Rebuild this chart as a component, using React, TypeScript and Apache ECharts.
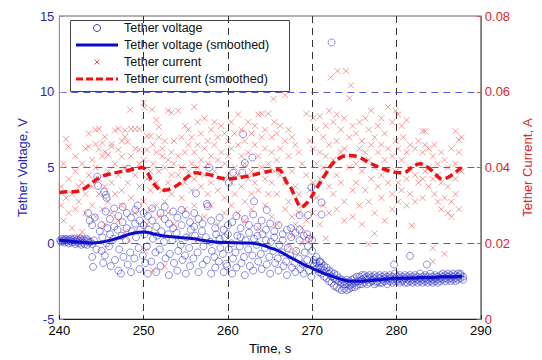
import React, { useEffect, useRef } from "react";
import * as echarts from "echarts";

// Tether voltage samples [time s, voltage V]
const voltageRaw: [number, number][] = [
  [240.1,0.2],[240.2,0.1],[240.3,0.3],[240.4,0.15],[240.5,0.25],[240.6,0.05],[240.7,0.2],[240.8,0.3],[240.9,0.1],[241.0,0.2],
  [241.1,0.0],[241.2,0.25],[241.3,0.15],[241.4,0.3],[241.5,0.05],[241.6,0.2],[241.7,0.1],[241.8,0.3],[241.9,-0.05],[242.0,0.2],
  [242.1,0.1],[242.2,0.25],[242.3,0.0],[242.4,0.15],[242.5,0.3],[242.6,-0.1],[242.7,0.2],[242.8,0.05],[242.9,0.25],[243.0,-0.05],
  [243.1,0.15],[243.2,0.3],[243.3,-0.1],[243.4,0.2],[243.5,0.05],[243.7,0.1],[243.9,-0.05],[244.1,0.2],
  [243.4,2.0],[243.6,1.5],[243.9,1.2],[244.2,1.7],[243.9,-0.9],[244.0,-1.55],[244.5,4.4],[244.6,3.8],[245.3,3.4],[245.6,3.0],[245.5,3.2],[244.4,-0.4],[244.8,0.8],
  [245.0,1.2],[245.0,-0.5],[245.1,0.4],[245.2,-1.3],
  [245.5,2.1],[245.6,0.0],[245.4,-0.8],[245.7,1.0],
  [246.0,1.6],[246.1,-1.5],[246.0,0.6],[245.9,-0.2],
  [246.5,2.3],[246.4,0.3],[246.6,-1.1],[246.5,1.1],
  [247.0,1.8],[247.1,-0.4],[246.9,0.9],[247.0,-1.8],
  [247.5,2.4],[247.4,0.5],[247.6,-0.9],[247.5,1.4],[247.3,-2.0],
  [248.0,1.0],[248.1,-1.4],[247.9,0.2],[248.0,2.0],[248.2,4.9],
  [248.5,1.7],[248.4,-0.6],[248.6,0.8],[248.5,-1.9],
  [249.0,2.2],[249.1,0.4],[248.9,-1.0],[249.0,1.3],
  [249.5,1.5],[249.4,-0.3],[249.6,0.9],[249.5,-1.7],[249.3,2.5],
  [250.0,2.0],[250.1,0.6],[249.9,-0.8],[250.0,1.2],[250.2,-1.3],
  [250.5,1.8],[250.4,-0.2],[250.6,0.9],[250.5,-2.0],
  [251.0,2.3],[251.1,0.3],[250.9,-1.2],[251.0,1.5],
  [251.5,1.1],[251.4,-0.6],[251.6,0.5],[251.5,-1.9],
  [252.0,2.0],[252.1,0.8],[251.9,-0.4],[252.0,-1.5],
  [252.5,1.6],[252.4,0.1],[252.6,-1.0],[252.5,2.4],
  [253.0,1.3],[253.1,-0.7],[252.9,0.6],[253.0,-2.1],
  [253.5,2.1],[253.4,0.2],[253.6,-1.3],[253.5,1.0],
  [254.0,1.7],[254.1,-0.5],[253.9,0.7],[254.0,-1.8],
  [254.5,1.2],[254.4,-0.1],[254.6,-1.1],[254.5,2.2],
  [255.0,1.9],[255.1,0.4],[254.9,-0.8],[255.0,-2.0],
  [255.5,1.4],[255.4,-0.3],[255.6,0.9],[255.5,-1.5],
  [256.0,2.0],[256.1,0.5],[255.9,-1.0],[256.0,1.1],[256.2,3.3],
  [256.5,1.6],[256.4,-0.6],[256.6,0.2],[256.5,-1.9],
  [257.0,1.3],[257.1,-0.2],[256.9,0.8],[257.0,-1.4],
  [257.5,2.6],[257.6,2.45],[257.4,0.4],[257.5,-1.1],[257.8,5.0],
  [258.0,1.5],[258.1,-0.5],[257.9,0.1],[258.0,-2.0],
  [258.5,1.0],[258.4,-0.9],[258.6,0.6],[258.5,-1.6],
  [259.0,1.7],[259.1,-0.3],[258.9,-1.2],[259.0,0.3],
  [259.5,0.9],[259.4,-0.7],[259.6,0.4],[259.5,-1.9],[259.8,-1.35],
  [260.0,1.2],[260.1,-0.4],[259.9,-1.5],[260.0,0.6],
  [260.1,4.0],[260.6,4.66],[261.7,4.66],[261.8,7.2],[262.0,5.3],[262.9,5.66],[263.1,2.77],[264.6,2.2],
  [268.5,1.86],[269.5,1.86],[269.9,3.7],[271.1,2.7],[271.1,1.9],[269.4,0.6],[269.6,0.3],[272.3,13.25],
  [260.5,1.4],[260.4,0.0],[260.6,-1.0],[260.5,-2.0],
  [261.0,1.8],[261.1,0.5],[260.9,-0.6],[261.0,-1.6],
  [261.5,1.0],[261.4,-0.2],[261.6,-1.3],[261.5,0.4],
  [262.0,1.6],[262.1,0.2],[261.9,-0.9],[262.0,-2.1],
  [262.5,1.2],[262.4,-0.4],[262.6,-1.5],[262.5,0.7],
  [263.0,1.9],[263.1,0.3],[262.9,-0.8],[263.0,-1.8],
  [263.5,1.1],[263.4,-0.1],[263.6,-1.2],[263.5,0.5],
  [264.0,1.5],[264.1,0.6],[263.9,-0.7],[264.0,-1.7],
  [264.5,0.9],[264.4,-0.3],[264.6,-1.4],[264.5,0.2],
  [265.0,1.3],[265.1,0.1],[264.9,-0.9],[265.0,-2.0],
  [265.5,0.8],[265.4,-0.5],[265.6,-1.3],[265.5,0.4],
  [266.0,1.2],[266.1,-0.1],[265.9,-1.0],[266.0,-1.8],
  [266.5,0.6],[266.4,-0.6],[266.6,-1.5],[266.5,0.2],
  [267.0,0.9],[267.1,-0.3],[266.9,-1.2],[267.0,-2.1],
  [267.5,0.4],[267.4,-0.8],[267.6,-1.6],[267.5,1.0],
  [268.0,0.7],[268.1,-0.5],[267.9,-1.3],[268.0,-1.9],
  [268.5,0.2],[268.4,-1.0],[268.6,-1.7],[268.5,0.9],
  [269.0,0.5],[269.1,-0.6],[268.9,-1.4],[269.0,-2.0],
  [269.5,-0.2],[269.4,-1.1],[269.6,-1.8],
  [270.0,-0.5],[270.1,-1.3],[269.9,-2.2],[270.0,0.2],
  [270.2,-1.1],[270.2,-1.5],[270.5,-1.3],[270.5,-1.7],[270.5,-0.9],
  [270.8,-1.5],[270.8,-1.9],[270.9,-1.2],[271.1,-1.6],[271.1,-2.0],[271.1,-1.3],
  [271.4,-1.8],[271.4,-2.2],[271.4,-1.5],[271.7,-1.9],[271.7,-2.3],[271.7,-1.6],
  [272.0,-2.0],[272.0,-2.5],[272.0,-1.8],[272.3,-2.2],[272.3,-2.6],[272.3,-1.9],
  [272.6,-2.3],[272.6,-2.8],[272.6,-2.0],[272.9,-2.4],[272.9,-2.9],[272.9,-2.1],
  [273.2,-2.5],[273.2,-3.0],[273.2,-2.3],[273.5,-2.6],[273.5,-3.1],[273.5,-2.4],
  [273.8,-2.7],[273.8,-3.0],[273.8,-2.5],[274.1,-2.7],[274.1,-3.1],[274.1,-2.4],
  [274.4,-2.8],[274.4,-3.0],[274.4,-2.5],[274.7,-2.7],[274.7,-2.9],[274.7,-2.4],
  [275.0,-2.6],[275.0,-2.9],[275.0,-2.3],[275.3,-2.5],[275.3,-2.8],[275.3,-2.2],
  [275.6,-2.5],[275.6,-2.7],[275.6,-2.2],[275.9,-2.4],[275.9,-2.7],[275.9,-2.1],
  [276.2,-2.3],[276.2,-2.6],[276.2,-2.1],[276.5,-2.4],[276.5,-2.7],[276.5,-2.2],
  [276.8,-2.3],[276.8,-2.6],[276.8,-2.1],[277.1,-2.4],[277.1,-2.5],[277.1,-2.2],
  [277.4,-2.3],[277.4,-2.7],[277.4,-2.1],[277.7,-2.5],[277.7,-2.2],[277.7,-2.6],
  [278.0,-2.3],[278.0,-2.6],[278.0,-2.1],[278.3,-2.4],[278.3,-2.2],[278.3,-2.6],
  [278.6,-2.3],[278.6,-2.5],[278.6,-2.1],[278.9,-2.4],[278.9,-2.7],[278.9,-2.2],
  [279.2,-2.3],[279.2,-2.5],[279.2,-2.1],[279.5,-2.4],[279.5,-2.2],[279.5,-2.6],
  [279.8,-2.3],[279.8,-2.5],[279.8,-2.0],[280.1,-2.2],[280.1,-2.5],[280.1,-2.4],
  [280.4,-2.3],[280.4,-2.6],[280.4,-2.1],[280.7,-2.4],[280.7,-2.2],[280.7,-2.5],
  [281.0,-2.3],[281.0,-2.6],[281.0,-2.1],[281.3,-2.2],[281.3,-2.4],[281.3,-2.6],
  [281.6,-2.3],[281.6,-2.5],[281.6,-2.1],[281.9,-2.4],[281.9,-2.2],[281.9,-2.6],
  [282.2,-2.3],[282.2,-2.5],[282.2,-2.1],[282.5,-2.2],[282.5,-2.4],[282.5,-2.6],
  [282.8,-2.3],[282.8,-2.5],[282.8,-2.0],[283.1,-2.2],[283.1,-2.4],[283.1,-2.6],
  [283.4,-2.3],[283.4,-2.5],[283.4,-2.1],[283.7,-2.2],[283.7,-2.4],[283.7,-2.6],
  [284.0,-2.3],[284.0,-2.5],[284.0,-2.0],[284.3,-2.2],[284.3,-2.4],[284.3,-2.6],
  [284.6,-2.1],[284.6,-2.3],[284.6,-2.5],[284.9,-2.2],[284.9,-2.4],[284.9,-2.6],
  [285.2,-2.1],[285.2,-2.3],[285.2,-2.5],[285.5,-2.2],[285.5,-2.4],[285.5,-2.0],
  [285.8,-2.1],[285.8,-2.3],[285.8,-2.5],[286.1,-2.2],[286.1,-2.4],[286.1,-2.0],
  [286.4,-2.1],[286.4,-2.3],[286.4,-2.5],[286.7,-2.0],[286.7,-2.2],[286.7,-2.4],
  [287.0,-2.1],[287.0,-2.3],[287.0,-2.5],[287.3,-2.0],[287.3,-2.2],[287.3,-2.4],
  [287.6,-2.1],[287.6,-2.3],[287.6,-2.0],[287.9,-2.2],[287.9,-2.4],
  [270.9,-1.2],[279.7,-1.4],[281.6,-0.83],[283.6,-1.4],
];

// Smoothed tether voltage [time s, voltage V]
const voltageSmooth: [number, number][] = [
  [240,0.2],[241,0.15],[242,0.1],[243,0.05],[244,0.02],[245,0.08],[246,0.2],[247,0.35],[248,0.55],[249,0.7],
  [250,0.75],[251,0.65],[252,0.52],[253,0.45],[254,0.4],[255,0.35],[256,0.3],[257,0.2],[258,0.12],[259,0.07],
  [260,0.05],[261,0.04],[262,0.02],[263,0.0],[264,-0.1],[265,-0.3],[266,-0.5],[267,-0.8],[268,-1.1],[269,-1.4],
  [270,-1.65],[271,-1.9],[272,-2.1],[273,-2.3],[274,-2.45],[275,-2.5],[276,-2.5],[277,-2.45],[278,-2.4],[279,-2.35],
  [280,-2.3],[281,-2.3],[282,-2.28],[283,-2.25],[284,-2.25],[285,-2.22],[286,-2.2],[287,-2.2],[287.8,-2.18],
];

// Tether current samples [time s, current A]
const currentRaw: [number, number][] = [
  [240.2,0.030],[240.2,0.035],[240.5,0.026],[240.5,0.041],[240.8,0.0475],[240.8,0.032],
  [241.1,0.0455],[241.1,0.028],[241.1,0.037],[241.5,0.033],[241.5,0.024],
  [241.9,0.039],[241.9,0.029],[241.9,0.043],[242.3,0.031],[242.3,0.035],[242.3,0.0219],
  [242.7,0.041],[242.7,0.023],[242.7,0.036],[243.1,0.045],[243.1,0.028],[243.1,0.033],
  [243.5,0.049],[243.5,0.0455],[243.5,0.038],[243.9,0.042],[243.9,0.030],[243.9,0.035],
  [244.3,0.0462],[244.3,0.050],[244.3,0.027],[244.3,0.040],[244.7,0.0448],[244.7,0.0502],[244.7,0.033],[244.7,0.037],
  [245.1,0.043],[245.1,0.029],[245.1,0.0465],[245.4,0.0442],[245.4,0.0481],[245.4,0.035],[245.4,0.025],
  [245.8,0.0434],[245.8,0.039],[245.8,0.031],[246.2,0.0455],[246.2,0.0462],[246.2,0.036],[246.2,0.028],
  [246.6,0.0498],[246.6,0.041],[246.6,0.033],[247.0,0.0502],[247.0,0.0447],[247.0,0.038],[247.0,0.026],
  [247.4,0.0429],[247.4,0.047],[247.4,0.034],[247.4,0.030],[247.8,0.0498],[247.8,0.0481],[247.8,0.040],[247.8,0.023],
  [248.1,0.0468],[248.4,0.0553],[248.1,0.036],[248.5,0.0502],[248.5,0.043],[248.3,0.0206],[248.5,0.032],
  [249.0,0.0502],[249.0,0.038],[249.0,0.028],[249.0,0.045],[249.5,0.0502],[249.5,0.0447],[249.5,0.035],[249.5,0.041],
  [250.0,0.0571],[250.1,0.0558],[250.0,0.042],[250.0,0.031],[250.2,0.018],
  [250.4,0.0483],[250.4,0.037],[250.4,0.025],[250.4,0.0447],[250.8,0.0483],[250.8,0.039],[250.8,0.034],[250.8,0.029],
  [251.0,0.0553],[251.1,0.0129],[251.1,0.041],[251.1,0.046],[251.5,0.0525],[251.5,0.036],[251.5,0.030],[251.5,0.044],
  [251.8,0.0507],[251.8,0.039],[251.8,0.027],[251.8,0.048],[252.2,0.043],[252.2,0.034],[252.2,0.045],[252.2,0.022],
  [252.5,0.0139],[252.5,0.047],[252.5,0.040],[252.5,0.031],[252.9,0.055],[252.9,0.042],[252.9,0.036],[252.9,0.028],
  [253.3,0.0545],[253.3,0.044],[253.3,0.033],[253.3,0.038],[253.6,0.041],[253.6,0.047],[253.6,0.025],
  [254.1,0.055],[254.1,0.043],[254.1,0.038],[254.1,0.021],[254.5,0.048],[254.5,0.040],[254.5,0.032],
  [254.9,0.051],[254.9,0.044],[254.9,0.036],[254.9,0.029],[255.3,0.046],[255.3,0.039],[255.3,0.022],[255.3,0.050],
  [255.7,0.048],[255.7,0.034],[255.7,0.041],[256.0,0.056],[256.0,0.044],[256.0,0.037],[256.0,0.030],
  [256.4,0.052],[256.4,0.046],[256.4,0.040],[256.4,0.021],[256.8,0.049],[256.8,0.042],[256.8,0.035],
  [257.2,0.053],[257.2,0.045],[257.2,0.038],[257.2,0.027],[257.6,0.047],[257.6,0.041],[257.6,0.033],
  [258.0,0.050],[258.0,0.043],[258.0,0.036],[258.0,0.030],[258.4,0.052],[258.4,0.046],[258.4,0.039],
  [258.8,0.048],[258.8,0.042],[258.8,0.034],[258.8,0.025],[259.2,0.051],[259.2,0.044],[259.2,0.037],
  [259.6,0.049],[259.6,0.041],[259.6,0.032],[259.6,0.028],[260.0,0.047],[260.0,0.043],[260.0,0.038],
  [260.4,0.052],[260.4,0.045],[260.4,0.036],[260.4,0.030],[260.8,0.049],[260.8,0.040],[260.8,0.033],
  [261.2,0.054],[261.2,0.046],[261.2,0.038],[261.2,0.028],[261.6,0.050],[261.6,0.043],[261.6,0.035],
  [262.0,0.047],[262.0,0.041],[262.0,0.031],[262.0,0.026],[262.4,0.052],[262.4,0.044],[262.4,0.037],
  [262.8,0.049],[262.8,0.039],[262.8,0.033],[262.8,0.029],[263.2,0.051],[263.2,0.046],[263.2,0.036],
  [263.6,0.054],[263.6,0.043],[263.6,0.034],[263.6,0.024],[264.0,0.0542],[264.0,0.048],[264.0,0.040],
  [264.4,0.050],[264.4,0.045],[264.4,0.037],[264.4,0.030],[264.8,0.0542],[264.8,0.041],[264.8,0.033],
  [265.2,0.048],[265.2,0.044],[265.2,0.036],[265.2,0.027],[265.4,0.0581],[265.5,0.052],[265.5,0.039],
  [265.8,0.049],[265.8,0.042],[265.8,0.033],[265.8,0.025],[266.2,0.051],[266.2,0.045],[266.2,0.038],
  [266.8,0.0591],[266.8,0.047],[266.8,0.036],[266.8,0.029],[267.2,0.050],[267.2,0.043],[267.2,0.031],[267.2,0.019],
  [267.6,0.048],[267.6,0.039],[267.6,0.027],[267.6,0.022],[268.0,0.046],[268.0,0.035],[268.0,0.025],[268.0,0.018],
  [268.4,0.044],[268.4,0.033],[268.4,0.028],[268.8,0.041],[268.8,0.030],[268.8,0.024],[268.8,0.020],
  [269.3,0.0542],[269.3,0.038],[269.3,0.026],[269.7,0.047],[269.7,0.034],[269.7,0.021],
  [270.1,0.053],[270.1,0.045],[270.1,0.036],[270.1,0.028],[270.5,0.050],[270.5,0.041],[270.5,0.032],
  [270.9,0.0535],[270.9,0.044],[270.9,0.037],[270.9,0.025],[271.3,0.048],[271.3,0.040],[271.3,0.030],
  [271.6,0.0213],[271.6,0.051],[271.6,0.043],[272.0,0.055],[272.0,0.046],[272.0,0.035],[272.0,0.028],
  [272.2,0.0638],[272.5,0.052],[272.5,0.042],[272.5,0.033],[272.9,0.054],[272.9,0.047],[272.9,0.038],[272.9,0.029],
  [273.0,0.0655],[273.4,0.050],[273.4,0.044],[273.4,0.036],[273.8,0.053],[273.8,0.045],[273.8,0.031],[273.8,0.026],
  [274.0,0.0655],[274.4,0.0583],[274.4,0.048],[274.4,0.040],[274.6,0.0617],
  [274.8,0.051],[274.8,0.043],[274.8,0.034],[274.8,0.027],[275.2,0.049],[275.2,0.041],[275.2,0.036],
  [275.6,0.052],[275.6,0.045],[275.6,0.030],[275.9,0.025],[275.9,0.047],[275.9,0.039],
  [276.3,0.053],[276.3,0.044],[276.3,0.034],[276.7,0.0198],[276.7,0.050],[276.7,0.042],[276.7,0.031],
  [277.0,0.055],[277.0,0.046],[277.0,0.037],[277.4,0.0226],[277.4,0.048],[277.4,0.040],[277.4,0.028],
  [277.8,0.051],[277.8,0.044],[277.8,0.035],[278.2,0.053],[278.2,0.046],[278.2,0.038],[278.2,0.032],
  [278.6,0.049],[278.6,0.042],[278.6,0.026],[279.0,0.056],[279.0,0.045],[279.0,0.036],
  [279.5,0.052],[279.5,0.043],[279.5,0.033],[279.5,0.029],[279.9,0.055],[279.9,0.047],[279.9,0.039],
  [280.2,0.054],[280.2,0.045],[280.2,0.036],[280.2,0.031],[280.6,0.051],[280.6,0.042],[280.6,0.034],[280.8,0.048],
  [281.2,0.0525],[281.2,0.044],[281.2,0.037],[281.2,0.030],[281.6,0.046],[281.6,0.040],[281.6,0.033],[281.8,0.0247],
  [282.2,0.045],[282.2,0.038],[282.2,0.031],[282.6,0.047],[282.6,0.041],[282.6,0.036],
  [283.1,0.0496],[283.1,0.044],[283.1,0.037],[283.1,0.032],[283.4,0.0496],[283.4,0.046],[283.4,0.039],
  [283.8,0.045],[283.8,0.040],[283.8,0.035],[284.3,0.0188],[284.3,0.0152],[284.3,0.043],[284.3,0.037],
  [284.5,0.033],[284.5,0.046],[284.9,0.041],[284.9,0.031],[284.9,0.038],[285.3,0.029],[285.3,0.044],[285.3,0.036],
  [285.7,0.0172],[285.7,0.032],[285.7,0.042],[286.1,0.028],[286.1,0.040],[286.1,0.035],
  [286.5,0.031],[286.5,0.045],[286.5,0.027],[287.0,0.0496],[287.0,0.033],[287.0,0.041],[287.0,0.037],
  [287.4,0.0473],[287.4,0.029],[287.4,0.044],[287.7,0.048],[287.7,0.039],
];

// Smoothed tether current [time s, current A]
const currentSmooth: [number, number][] = [
  [240,0.0334],[241,0.0336],[242,0.0337],[243,0.0345],[244,0.0362],[245,0.0376],[246,0.0383],[247,0.0388],[248,0.0392],[249,0.0396],
  [249.8,0.040],[250.5,0.0385],[251.1,0.036],[252.3,0.034],[253.3,0.0345],[254.3,0.0358],[255.2,0.0375],[256.1,0.0386],[257,0.0384],[258,0.038],
  [259,0.0373],[260,0.037],[261,0.0372],[262,0.0376],[262.9,0.038],[264,0.0386],[265.5,0.0393],[266,0.0394],[267,0.036],[267.5,0.0345],
  [268,0.032],[268.7,0.0296],[269.5,0.031],[270.5,0.0345],[271.5,0.038],[272.4,0.041],[273.5,0.0428],[274.4,0.0432],[275.5,0.0428],[277,0.041],
  [278.5,0.0396],[279.7,0.0388],[280.8,0.0386],[281.8,0.040],[282.8,0.041],[283.6,0.0402],[284.3,0.039],[285.4,0.037],[286.4,0.0378],[287.7,0.040],
];

const FONT = "'Liberation Sans', Arial, sans-serif";
const BLUE_TXT = "#2626b8";
const RED_TXT = "#e0262a";

export default function App() {
  const ref = useRef<HTMLDivElement>(null);
  useEffect(() => {
    if (!ref.current) return;
    const chart = echarts.init(ref.current, undefined, { renderer: "svg" });
    // legend rows (coordinates inside the chart div, which sits 8px in from the page corner)
    const legendItems = [
      { y: 20, text: "Tether voltage" },
      { y: 37, text: "Tether voltage (smoothed)" },
      { y: 54, text: "Tether current" },
      { y: 71, text: "Tether current (smoothed)" },
    ];
    chart.setOption({
      animation: false,
      backgroundColor: "#ffffff",
      textStyle: { fontFamily: FONT },
      grid: { left: 50, right: 49, top: 8, bottom: 33, show: true, borderColor: "#666", borderWidth: 1, backgroundColor: "transparent" },
      xAxis: {
        type: "value", min: 240, max: 290, interval: 10,
        name: "Time, s", nameLocation: "middle", nameGap: 18,
        nameTextStyle: { color: "#000", fontSize: 13, fontFamily: FONT },
        axisLine: { show: true, onZero: false, lineStyle: { color: "#222", width: 1 } },
        axisTick: { show: true, inside: true, length: 4, lineStyle: { color: "#222" } },
        axisLabel: { color: "#000", fontSize: 13, margin: 5, fontFamily: FONT },
        splitLine: { show: true, showMinLine: false, showMaxLine: false, lineStyle: { color: "#333", type: [7, 5], width: 1 } },
      },
      yAxis: [
        {
          type: "value", min: -5, max: 15, interval: 5, position: "left",
          name: "Tether Voltage, V", nameLocation: "middle", nameGap: 30, nameRotate: 90,
          nameTextStyle: { color: BLUE_TXT, fontSize: 13, fontFamily: FONT },
          axisLine: { show: true, lineStyle: { color: "#8c8cc8", width: 1 } },
          axisTick: { show: true, inside: true, length: 4, lineStyle: { color: "#8c8cc8" } },
          axisLabel: { color: BLUE_TXT, fontSize: 13, margin: 5, fontFamily: FONT },
          splitLine: { show: true, showMinLine: false, showMaxLine: false, lineStyle: { color: "#5a5ad6", type: [7, 5], width: 1 } },
        },
        {
          type: "value", min: 0, max: 0.08, interval: 0.02, position: "right",
          name: "Tether Current, A", nameLocation: "middle", nameGap: 34, nameRotate: 90,
          nameTextStyle: { color: RED_TXT, fontSize: 13, fontFamily: FONT },
          axisLine: { show: true, lineStyle: { color: "#d85050", width: 1 } },
          axisTick: { show: true, inside: true, length: 4, lineStyle: { color: "#d85050" } },
          axisLabel: { color: RED_TXT, fontSize: 13, margin: 4, fontFamily: FONT, formatter: (v: number) => (v === 0 ? "0" : v.toFixed(2)) },
          splitLine: { show: false },
        },
      ],
      series: [
        {
          name: "Tether voltage", type: "scatter", yAxisIndex: 0, data: voltageRaw,
          symbol: "circle", symbolSize: 7,
          itemStyle: { color: "transparent", borderColor: "rgba(40,40,200,0.65)", borderWidth: 1 },
          z: 2,
        },
        {
          name: "Tether current", type: "scatter", yAxisIndex: 1, data: currentRaw,
          symbol: "path://M0,0L10,10M10,0L0,10", symbolSize: 6,
          itemStyle: { color: "transparent", borderColor: "rgba(238,55,55,0.62)", borderWidth: 1 },
          z: 3,
        },
        {
          name: "Tether voltage (smoothed)", type: "line", yAxisIndex: 0, data: voltageSmooth,
          symbol: "none", smooth: 0.4, lineStyle: { color: "#0a0acc", width: 3 }, z: 4,
        },
        {
          name: "Tether current (smoothed)", type: "line", yAxisIndex: 1, data: currentSmooth,
          symbol: "none", smooth: 0.4, lineStyle: { color: "#f01010", width: 3.5, type: [8, 4] }, z: 5,
        },
      ],
      graphic: [
        {
          type: "group", z: 100, children: [
            { type: "rect", shape: { x: 62.5, y: 12.5, width: 219, height: 71 }, style: { fill: "#fff", stroke: "#444", lineWidth: 1 } },
            { type: "circle", shape: { cx: 89, cy: 20, r: 3.5 }, style: { fill: "none", stroke: "#3a3ac0", lineWidth: 1 } },
            { type: "line", shape: { x1: 68, y1: 37, x2: 110, y2: 37 }, style: { stroke: "#0a0acc", lineWidth: 3 } },
            { type: "line", shape: { x1: 86.5, y1: 51.5, x2: 91.5, y2: 56.5 }, style: { stroke: "#e85a5a", lineWidth: 1 } },
            { type: "line", shape: { x1: 91.5, y1: 51.5, x2: 86.5, y2: 56.5 }, style: { stroke: "#e85a5a", lineWidth: 1 } },
            { type: "line", shape: { x1: 68, y1: 71, x2: 110, y2: 71 }, style: { stroke: "#f01010", lineWidth: 3, lineDash: [7, 3] } },
            ...legendItems.map((it) => ({
              type: "text", x: 116, y: it.y,
              style: { text: it.text, fill: "#111", fontSize: 12.5, fontFamily: FONT, verticalAlign: "middle", align: "left" },
            })),
          ],
        },
      ],
    });
    return () => chart.dispose();
  }, []);
  return <div ref={ref} style={{ width: 534, height: 352 }} />;
}
